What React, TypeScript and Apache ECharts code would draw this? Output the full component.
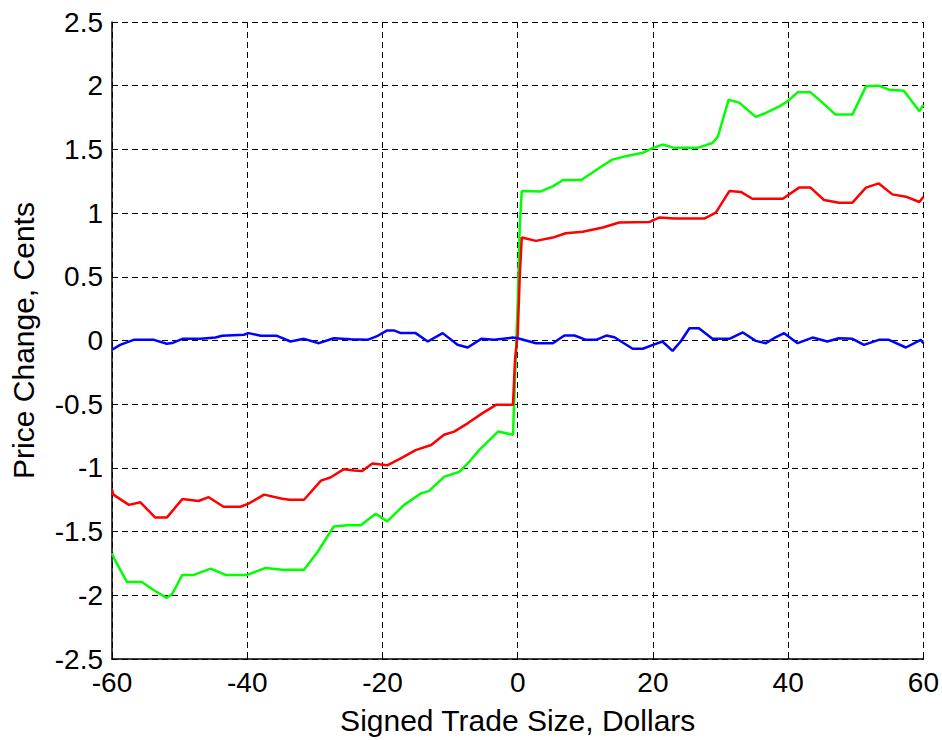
import React, { useEffect, useRef } from "react";
import * as echarts from "echarts";

const X_TICKS_MIN = -60;
const X_TICKS_MAX = 60;
const X_INTERVAL = 20;
const Y_MIN = -2.5;
const Y_MAX = 2.5;
const Y_INTERVAL = 0.5;

const X_TITLE = "Signed Trade Size, Dollars";
const Y_TITLE = "Price Change, Cents";

const greenPoints: [number, number][] = [
  [-60, -1.67], [-59.6, -1.72], [-57.8, -1.895], [-55.6, -1.895], [-53.8, -1.96], [-51.9, -2.02],
  [-51.1, -1.99], [-49.6, -1.84], [-47.9, -1.84], [-45.4, -1.79], [-43.2, -1.84], [-40, -1.84],
  [-37.3, -1.785], [-34.8, -1.8], [-31.6, -1.8], [-29.6, -1.66], [-27.2, -1.46], [-25.2, -1.45],
  [-23.2, -1.45], [-21, -1.36], [-19.3, -1.42], [-16.8, -1.29], [-14.3, -1.2], [-13.1, -1.18],
  [-10.9, -1.07], [-8.6, -1.03], [-7.4, -0.965], [-5.7, -0.86], [-2.9, -0.715], [-0.7, -0.74],
  [-0.4, -0.3], [0, 0.3], [0.3, 0.9], [0.6, 1.173], [3.4, 1.17], [5.2, 1.21], [6.7, 1.26],
  [9.4, 1.26], [12.1, 1.356], [14, 1.42], [16, 1.447], [18.5, 1.473], [20, 1.512], [21.4, 1.538],
  [23.2, 1.512], [26.6, 1.512], [28.8, 1.55], [29.6, 1.6], [31.2, 1.89], [32.8, 1.865],
  [35.2, 1.755], [36.7, 1.786], [38.7, 1.838], [39.9, 1.877], [41.4, 1.948], [43.3, 1.948],
  [45.1, 1.865], [47, 1.773], [49.5, 1.773], [51.5, 1.995], [53.4, 2.0], [54.9, 1.969],
  [57.1, 1.961], [59.4, 1.8], [60, 1.85],
];

const redPoints: [number, number][] = [
  [-60, -1.17], [-59.8, -1.21], [-57.5, -1.29], [-55.8, -1.27], [-53.6, -1.39], [-51.9, -1.39],
  [-49.6, -1.245], [-47.2, -1.26], [-45.7, -1.23], [-43.5, -1.305], [-41, -1.305], [-39.8, -1.28],
  [-37.5, -1.21], [-35, -1.24], [-33.8, -1.25], [-31.6, -1.25], [-29.1, -1.1], [-27.7, -1.075],
  [-25.7, -1.01], [-24.2, -1.02], [-23, -1.025], [-21.5, -0.965], [-19.3, -0.98], [-17.3, -0.925],
  [-15.1, -0.86], [-12.8, -0.82], [-10.9, -0.74], [-9.4, -0.715], [-7.4, -0.65], [-5.2, -0.57],
  [-3.2, -0.505], [-0.7, -0.505], [-0.4, -0.15], [0, 0.05], [0.3, 0.5], [0.6, 0.808],
  [2.7, 0.782], [5.2, 0.808], [7.1, 0.842], [9.6, 0.853], [12.6, 0.887], [15, 0.926],
  [19.5, 0.931], [20.9, 0.965], [23.2, 0.957], [27.6, 0.957], [29.3, 1.004], [31.3, 1.173],
  [33, 1.166], [34.7, 1.113], [39.2, 1.113], [41.6, 1.2], [43.3, 1.2], [45.3, 1.103],
  [47.5, 1.082], [49.5, 1.082], [51.5, 1.2], [53.4, 1.233], [55.4, 1.147], [57.4, 1.129],
  [59.4, 1.087], [60, 1.129],
];

const bluePoints: [number, number][] = [
  [-60, -0.073], [-58.8, -0.034], [-56.8, 0.005], [-53.8, 0.005], [-51.9, -0.026], [-51.1, -0.02],
  [-49.6, 0.013], [-46.9, 0.013], [-44.7, 0.024], [-43.7, 0.037], [-40.5, 0.045], [-39.8, 0.058],
  [-38, 0.037], [-35.6, 0.037], [-33.6, -0.008], [-31.6, 0.013], [-29.4, -0.021], [-27.2, 0.018],
  [-24.7, 0.01], [-22.2, 0.005], [-20.7, 0.037], [-19.3, 0.079], [-18.3, 0.079], [-17.3, 0.058],
  [-15.1, 0.058], [-13.3, -0.008], [-11.1, 0.058], [-8.9, -0.034], [-7.4, -0.055], [-5.4, 0.013],
  [-3.5, 0.005], [-0.7, 0.023], [0, 0.018], [2.7, -0.021], [5.2, -0.021], [6.9, 0.039],
  [8.4, 0.039], [10.1, 0.005], [11.6, 0.005], [13.1, 0.039], [14.3, 0.026], [17, -0.065],
  [18.5, -0.065], [20, -0.034], [21.4, -0.008], [22.9, -0.081], [24.1, -0.008], [25.4, 0.096],
  [26.8, 0.096], [28.8, 0.013], [31.3, 0.013], [33.3, 0.063], [35.2, -0.003], [36.7, -0.021],
  [37.9, 0.018], [39.4, 0.057], [41.4, -0.021], [43.6, 0.023], [45.8, -0.008], [47.5, 0.018],
  [49.5, 0.013], [51.2, -0.034], [53.4, 0.005], [54.9, 0.005], [57.4, -0.055], [59.6, 0.005],
  [60, -0.021],
];

const FONT = "'Liberation Sans', Arial, sans-serif";

export default function App() {
  const ref = useRef<HTMLDivElement>(null);

  useEffect(() => {
    document.body.style.margin = "0";
    if (!ref.current) return;
    const chart = echarts.init(ref.current, null, { renderer: "svg" });
    const tickStyle = { color: "#000", fontSize: 28, fontFamily: FONT };
    const titleStyle = { color: "#000", fontSize: 30, fontFamily: FONT };
    const gridLine = { show: true, lineStyle: { color: "#000", width: 1, type: [6, 4] as any } };
    const lineSeries = (name: string, color: string, data: [number, number][]) => ({
      name,
      type: "line",
      data,
      symbol: "none",
      lineStyle: { color, width: 2.5 },
      itemStyle: { color },
    });
    chart.setOption({
      animation: false,
      backgroundColor: "#fff",
      grid: { left: 112, right: 17, top: 22, bottom: 79, containLabel: false },
      xAxis: {
        type: "value",
        min: X_TICKS_MIN,
        max: X_TICKS_MAX,
        interval: X_INTERVAL,
        name: X_TITLE,
        nameLocation: "middle",
        nameGap: 46,
        nameTextStyle: { ...titleStyle },
        axisLine: { show: true, onZero: false, lineStyle: { color: "#000", width: 1.5 } },
        axisTick: { show: true, inside: true, length: 6, lineStyle: { color: "#000" } },
        axisLabel: { ...tickStyle, margin: 9 },
        splitLine: gridLine,
      },
      yAxis: {
        type: "value",
        min: Y_MIN,
        max: Y_MAX,
        interval: Y_INTERVAL,
        name: Y_TITLE,
        nameLocation: "middle",
        nameGap: 74,
        nameTextStyle: { ...titleStyle },
        axisLine: { show: true, onZero: false, lineStyle: { color: "#000", width: 1.5 } },
        axisTick: { show: true, inside: true, length: 6, lineStyle: { color: "#000" } },
        axisLabel: { ...tickStyle, margin: 9 },
        splitLine: gridLine,
      },
      series: [
        lineSeries("green", "#00ff00", greenPoints),
        lineSeries("red", "#ff0000", redPoints),
        lineSeries("blue", "#0000ff", bluePoints),
      ],
    });
    return () => chart.dispose();
  }, []);

  return <div ref={ref} style={{ width: 942, height: 740 }} />;
}
